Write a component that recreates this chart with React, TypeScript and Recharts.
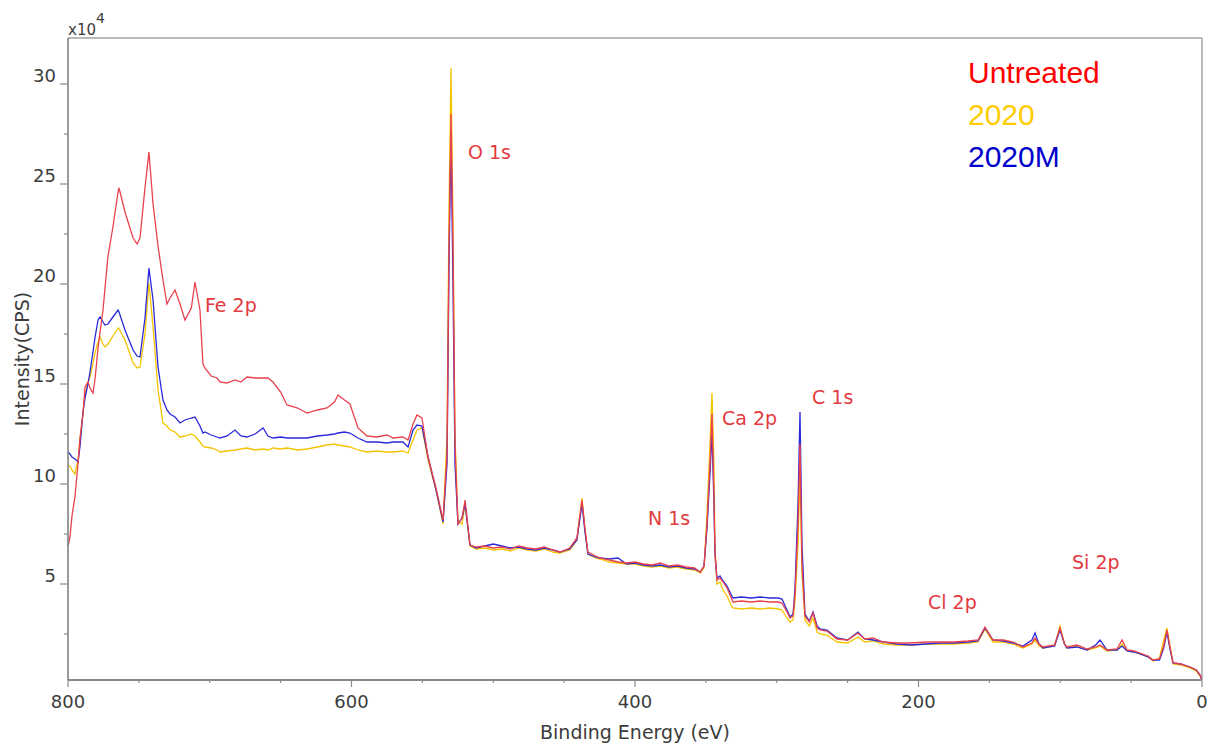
import React from 'react';
import { LineChart, Line, XAxis, YAxis, ReferenceDot, ReferenceLine, Legend } from 'recharts';

// Binding energy (eV) sample points, descending
const energies = [
  800, 798.6, 797.2, 795.1, 792.9, 791.5, 789.4, 788.0, 785.9, 784.5, 782.4, 781.0, 778.8, 777.4, 775.3, 773.9, 771.8, 768.3,
  764.7, 764.0, 759.8, 754.1, 751.3, 749.2, 745.7, 742.9, 740.0, 736.5, 733.0, 730.2, 728.0, 724.5, 721.0, 717.5, 713.0,
  710.4, 706.9, 704.8, 703.4, 699, 694.9, 692.8, 687.8, 682.2, 678, 673.7, 668, 662.4, 658.9, 655.4, 650, 645.5, 638,
  631.4, 624, 617.3, 612, 609.5, 605, 601.1, 595.4, 589.1, 582.0, 575, 570.7, 563.7, 560.1, 556.6, 553.8, 550.3, 546.0,
  540.4, 535.4, 532.6, 531.2, 529.8, 528.4, 527.0, 524.9, 522.0, 519.9, 516.4, 512, 506, 500, 494, 488, 482, 476, 470,
  464, 458, 453, 446, 441, 437.4, 435.3, 433.2, 428, 424.7, 418, 412, 406, 400, 394, 388, 382, 376, 370, 364, 358, 354,
  351.3, 349.2, 347.1, 345.7, 344.3, 343.6, 342.2, 340, 337.9, 335.1, 332, 330.9, 325, 318, 311.8, 305, 299, 296.3,
  292.8, 290.6, 288.5, 287.1, 285.0, 283.6, 282.2, 280.1, 277, 274.4, 271.5, 269.5, 264.6, 257.5, 250, 242.7, 238, 232,
  225.0, 215, 205, 195, 185, 175, 165, 158, 153.1, 147.5, 140, 133.3, 126.3, 120, 117.8, 115, 112.2, 104, 100.2, 97,
  95.2, 88.2, 81.1, 75, 71.9, 67.0, 60, 56.4, 52.9, 48, 43.7, 38, 34.6, 30, 27, 24.7, 22.5, 20.4, 15, 8.5, 4, 1.4, 0,
];

// Intensity (x10^4 CPS)
const untreated = [
  6.9, 7.35, 8.4, 9.35, 11.05, 12.3, 13.55, 14.85, 15.1, 14.8, 14.55, 15.2, 16.8, 17.6, 18.7, 19.8, 21.4, 22.85,
  24.6, 24.8, 23.6, 22.3, 22.0, 22.3, 24.8, 26.6, 24.0, 21.9, 20.2, 19.0, 19.3, 19.7, 19.0, 18.2, 18.8,
  20.1, 18.7, 16.0, 15.8, 15.4, 15.3, 15.1, 15.05, 15.2, 15.1, 15.35, 15.3, 15.3, 15.3, 15.1, 14.6, 13.95, 13.8,
  13.55, 13.7, 13.8, 14.1, 14.45, 14.2, 14.0, 12.8, 12.4, 12.35, 12.45, 12.3, 12.35, 12.2, 13.0, 13.45, 13.3, 11.35,
  9.8, 8.2, 11.5, 22.0, 28.5, 22.0, 12.0, 8.0, 8.3, 9.2, 6.95, 6.85, 6.9, 6.8, 6.85, 6.75, 6.9, 6.8, 6.75,
  6.85, 6.7, 6.6, 6.8, 7.3, 9.2, 7.8, 6.6, 6.4, 6.3, 6.2, 6.1, 6.05, 6.1, 6.0, 5.95, 6.05, 5.9, 5.95, 5.85, 5.8, 5.6,
  5.9, 8.0, 11.0, 13.5, 9.5, 6.55, 5.2, 5.3, 5.1, 4.8, 4.3, 4.1, 4.15, 4.1, 4.15, 4.1, 4.1, 4.05,
  3.6, 3.3, 3.4, 4.5, 8.0, 12.0, 6.0, 3.4, 3.1, 3.55, 2.8, 2.7, 2.65, 2.25, 2.2, 2.55, 2.25, 2.3,
  2.1, 2.05, 2.05, 2.1, 2.1, 2.1, 2.15, 2.2, 2.85, 2.2, 2.2, 2.1, 1.85, 2.05, 2.3, 2.0, 1.85, 1.95, 2.8, 2.0,
  1.85, 1.95, 1.75, 1.85, 1.95, 1.7, 1.75, 2.2, 1.7, 1.65, 1.55, 1.4, 1.2, 1.25, 1.9, 2.7, 1.8, 1.05, 1.0, 0.85, 0.7, 0.45, 0.2,
];

const series2020 = [
  10.95, 10.9, 10.7, 10.5, 11.2, 12.3, 13.55, 14.5, 15.1, 15.35, 16.0, 16.55, 17.1, 17.35, 17.0, 16.85, 17.0, 17.4,
  17.8, 17.75, 17.2, 16.05, 15.8, 15.85, 17.5, 20.05, 17.85, 14.7, 13.05, 12.9, 12.7, 12.6, 12.35, 12.4, 12.5,
  12.4, 12.1, 11.9, 11.85, 11.8, 11.7, 11.6, 11.65, 11.7, 11.75, 11.8, 11.7, 11.75, 11.7, 11.8, 11.75, 11.8, 11.7,
  11.75, 11.85, 11.95, 12.0, 11.95, 11.9, 11.85, 11.7, 11.6, 11.65, 11.6, 11.6, 11.65, 11.55, 12.2, 12.7, 12.8, 11.2,
  9.7, 8.0, 12.5, 24.0, 30.8, 23.0, 12.5, 8.1, 8.0, 9.0, 6.9, 6.75, 6.8, 6.7, 6.75, 6.65, 6.8, 6.7, 6.65,
  6.75, 6.6, 6.55, 6.7, 7.2, 9.3, 7.7, 6.5, 6.3, 6.25, 6.1, 6.05, 6.0, 6.0, 5.9, 5.85, 5.9, 5.8, 5.85, 5.75, 5.7, 5.55,
  5.8, 8.5, 12.0, 14.55, 11.0, 7.0, 5.0, 5.1, 4.7, 4.4, 3.9, 3.8, 3.75, 3.8, 3.75, 3.8, 3.75, 3.7,
  3.3, 3.1, 3.2, 4.2, 7.0, 10.5, 5.5, 3.2, 2.9, 3.3, 2.6, 2.5, 2.45, 2.1, 2.05, 2.35, 2.1, 2.15,
  2.0, 1.95, 1.95, 2.0, 2.0, 2.0, 2.05, 2.1, 2.75, 2.1, 2.1, 2.0, 1.8, 2.0, 2.2, 1.9, 1.8, 1.9, 2.9, 2.0,
  1.8, 1.9, 1.7, 1.8, 1.9, 1.65, 1.7, 2.0, 1.65, 1.6, 1.5, 1.35, 1.15, 1.3, 2.2, 2.8, 1.9, 1.0, 0.95, 0.8, 0.65, 0.4, 0.2,
];

const series2020M = [
  11.6, 11.5, 11.35, 11.25, 11.1, 11.9, 13.6, 14.3, 15.0, 15.6, 16.6, 17.3, 18.2, 18.35, 18.1, 17.95, 18.0, 18.35,
  18.7, 18.6, 17.7, 16.7, 16.4, 16.35, 18.3, 20.8, 19.2, 15.85, 14.2, 13.7, 13.5, 13.35, 13.05, 13.2, 13.3,
  13.35, 12.9, 12.55, 12.6, 12.45, 12.35, 12.3, 12.4, 12.7, 12.4, 12.35, 12.5, 12.8, 12.4, 12.3, 12.35, 12.3, 12.3,
  12.3, 12.4, 12.45, 12.5, 12.55, 12.6, 12.55, 12.3, 12.1, 12.1, 12.05, 12.1, 12.1, 11.85, 12.7, 12.95, 12.9, 11.35,
  9.7, 8.1, 11.0, 21.0, 27.5, 20.0, 11.0, 8.0, 8.3, 9.0, 6.95, 6.8, 6.9, 7.0, 6.9, 6.8, 6.85, 6.75, 6.7,
  6.8, 6.7, 6.6, 6.75, 7.2, 9.0, 7.6, 6.5, 6.35, 6.3, 6.25, 6.3, 6.0, 6.05, 5.95, 5.9, 5.95, 5.85, 5.9, 5.8, 5.75, 5.6,
  5.9, 7.8, 10.5, 12.6, 9.0, 6.5, 5.3, 5.4, 5.15, 4.9, 4.45, 4.3, 4.35, 4.3, 4.35, 4.3, 4.3, 4.25,
  3.7, 3.35, 3.5, 4.8, 9.0, 13.6, 7.0, 3.5, 3.15, 3.6, 2.9, 2.75, 2.7, 2.3, 2.2, 2.6, 2.25, 2.2,
  2.1, 2.0, 1.95, 2.0, 2.05, 2.05, 2.1, 2.15, 2.8, 2.2, 2.15, 2.05, 1.9, 2.2, 2.55, 2.0, 1.8, 1.9, 2.7, 2.0,
  1.8, 1.85, 1.7, 1.95, 2.2, 1.7, 1.7, 1.9, 1.65, 1.6, 1.5, 1.35, 1.2, 1.2, 1.8, 2.6, 1.7, 1.05, 1.0, 0.85, 0.7, 0.45, 0.2,
];

const xTicks = [0, 50, 100, 150, 200, 250, 300, 350, 400, 450, 500, 550, 600, 650, 700, 750, 800];
const xLabelTicks = [0, 200, 400, 600, 800];
const yTicks = [2.5, 5, 7.5, 10, 12.5, 15, 17.5, 20, 22.5, 25, 27.5, 30];
const yLabelTicks = [5, 10, 15, 20, 25, 30];
const xDomain = [0, 800];
const yDomain = [0.2, 32.3];

const peakLabels = ['O 1s', 'Fe 2p', 'Ca 2p', 'C 1s', 'N 1s', 'Cl 2p', 'Si 2p'];
const peakEnergies = [517.8, 703.4, 338.6, 275.1, 390.8, 193.3, 91.7];
const peakIntensities = [26.6, 18.95, 13.3, 14.35, 8.3, 4.1, 6.1];

const seriesNames = ['Untreated', '2020', '2020M'];
const seriesKeys = ['untreated', 's2020', 's2020M'];
const lineColors = ['#e8424e', '#f5c400', '#2a2ad8'];
const legendColors = ['#ff0000', '#ffcc00', '#0000cc'];

const data = energies.map((e, i) => ({
  energy: e,
  untreated: untreated[i],
  s2020: series2020[i],
  s2020M: series2020M[i],
}));

const FONT = "'DejaVu Sans', Verdana, sans-serif";
const AXIS_COLOR = '#8a8a8a';
const FRAME_COLOR = '#a3a3a3';
const TEXT_COLOR = '#3c3c3c';
const PEAK_COLOR = '#e23a40';

const XTick = (props: any) => {
  const { x, y, payload } = props;
  const major = xLabelTicks.includes(payload.value);
  return (
    <g>
      <line x1={x} x2={x} y1={y} y2={y + (major ? 7 : 3)} stroke={AXIS_COLOR} strokeWidth={1.2} />
      {major && (
        <text x={x} y={y + 28} textAnchor="middle" fontSize={18} fontFamily={FONT} fill={TEXT_COLOR}>
          {payload.value}
        </text>
      )}
    </g>
  );
};

const YTick = (props: any) => {
  const { x, y, payload } = props;
  const major = yLabelTicks.includes(payload.value);
  return (
    <g>
      <line x1={x - (major ? 8 : 4)} x2={x} y1={y} y2={y} stroke={AXIS_COLOR} strokeWidth={1.2} />
      {major && (
        <text x={x - 12} y={y - 2} textAnchor="end" fontSize={18} fontFamily={FONT} fill={TEXT_COLOR}>
          {payload.value}
        </text>
      )}
    </g>
  );
};

const YLabel = (props: any) => {
  const vb = props.viewBox || {};
  const axisX = vb.x + vb.width;
  const cy = vb.y + vb.height / 2;
  return (
    <g>
      <text
        x={vb.x + 14}
        y={cy}
        transform={`rotate(-90, ${vb.x + 14}, ${cy})`}
        textAnchor="middle"
        dominantBaseline="central"
        fontSize={19}
        fontFamily={FONT}
        fill={TEXT_COLOR}
      >
        Intensity(CPS)
      </text>
      <text x={axisX} y={vb.y - 3} fontSize={15} fontFamily={FONT} fill={TEXT_COLOR}>
        x10
        <tspan dy={-12} fontSize={14}>4</tspan>
      </text>
    </g>
  );
};

const XLabel = (props: any) => {
  const vb = props.viewBox || {};
  return (
    <text
      x={vb.x + vb.width / 2}
      y={vb.y + 59}
      textAnchor="middle"
      fontSize={19}
      fontFamily={FONT}
      fill={TEXT_COLOR}
    >
      Binding Energy (eV)
    </text>
  );
};

const LegendContent = () => (
  <div style={{ fontFamily: "'Liberation Sans', Arial, sans-serif", fontSize: 30, lineHeight: '42px' }}>
    {seriesNames.map((n, i) => (
      <div key={n} style={{ color: legendColors[i] }}>{n}</div>
    ))}
  </div>
);

export default function App() {
  const drawOrder = [1, 2, 0];
  return (
    <div style={{ width: 1217, height: 736, background: '#fff' }}>
      <LineChart width={1217} height={736} data={data} margin={{ top: 30, right: 23, left: 0, bottom: 24 }}>
        <XAxis
          dataKey="energy"
          type="number"
          domain={xDomain}
          reversed
          ticks={xTicks}
          interval={0}
          tickSize={0}
          tickMargin={0}
          tickLine={false}
          tick={XTick}
          height={40}
          axisLine={{ stroke: AXIS_COLOR, strokeWidth: 2 }}
          label={XLabel}
          allowDataOverflow
        />
        <YAxis
          type="number"
          domain={yDomain}
          ticks={yTicks}
          interval={0}
          tickSize={0}
          tickMargin={0}
          tickLine={false}
          tick={YTick}
          width={60}
          axisLine={{ stroke: '#7a7a7a', strokeWidth: 1.5 }}
          label={YLabel}
          allowDataOverflow
        />
        <ReferenceLine y={yDomain[1]} stroke={FRAME_COLOR} strokeWidth={1.5} ifOverflow="visible" />
        <ReferenceLine x={xDomain[0]} stroke={FRAME_COLOR} strokeWidth={1.5} ifOverflow="visible" />
        {drawOrder.map((i) => (
          <Line
            key={seriesKeys[i]}
            dataKey={seriesKeys[i]}
            name={seriesNames[i]}
            stroke={lineColors[i]}
            strokeWidth={1.3}
            dot={false}
            isAnimationActive={false}
            type="linear"
          />
        ))}
        {peakLabels.map((lbl, i) => (
          <ReferenceDot
            key={lbl}
            x={peakEnergies[i]}
            y={peakIntensities[i]}
            r={1}
            ifOverflow="visible"
            shape={(p: any) => (
              <text
                x={p.cx}
                y={p.cy}
                dominantBaseline="central"
                fontSize={19}
                fontFamily={FONT}
                fill={PEAK_COLOR}
              >
                {lbl}
              </text>
            )}
          />
        ))}
        <Legend
          layout="vertical"
          align="center"
          verticalAlign="middle"
          content={LegendContent}
          wrapperStyle={{ top: 44, left: 960, width: 240, height: 130 }}
        />
      </LineChart>
    </div>
  );
}
